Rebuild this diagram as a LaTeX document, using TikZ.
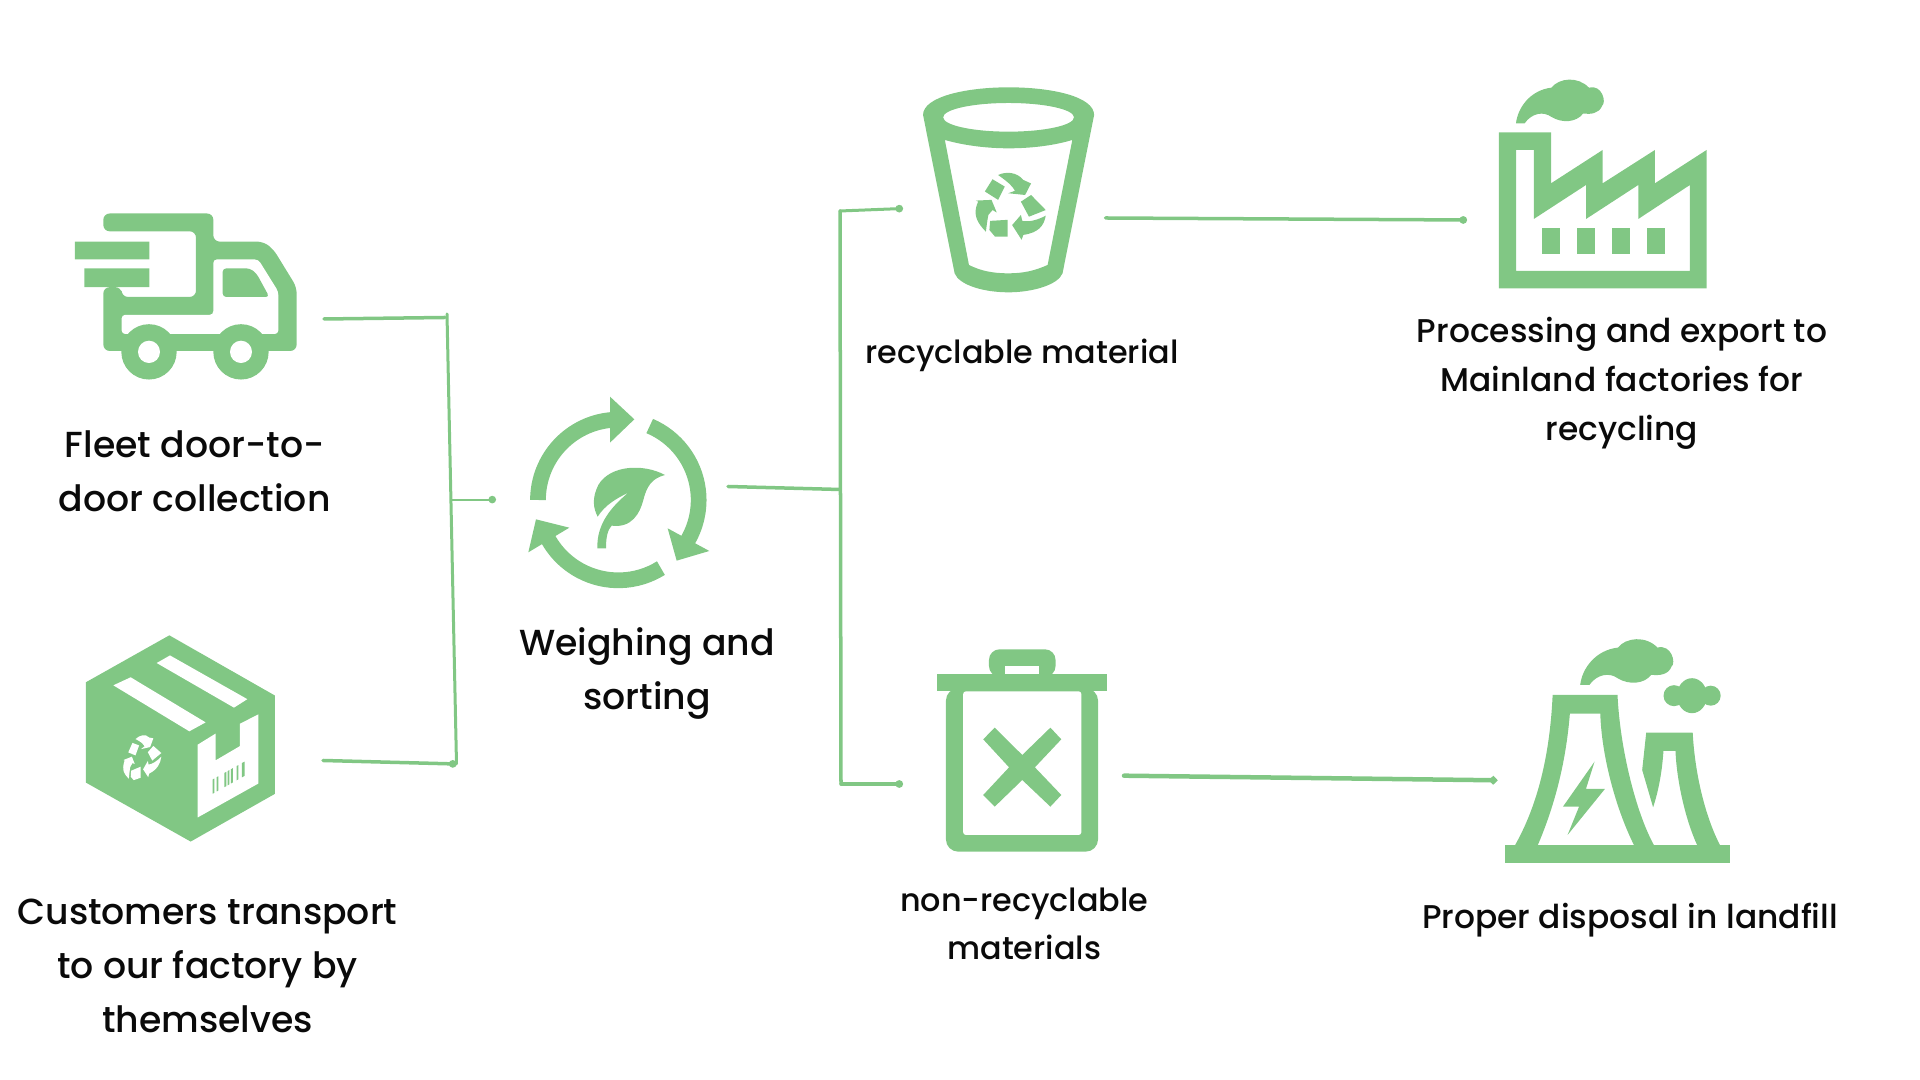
\documentclass[tikz,border=0pt]{standalone}
\usepackage{fontspec}
\setmainfont{Poppins Medium}
\usetikzlibrary{arrows.meta}
\definecolor{leaf}{RGB}{129,199,132}
\definecolor{inktext}{RGB}{10,10,10}
\tikzset{
  iconfill/.style={fill=leaf, even odd rule, draw=none},
  link/.style={draw=leaf, line width=.035cm, line cap=round},
  dotlink/.style={link, -{Circle[length=.075cm,width=.075cm]}},
  biglabel/.style={align=center, inner sep=0pt, text=inktext, font=\fontsize{10.3}{15.3}\selectfont},
  smalllabel/.style={align=center, inner sep=0pt, text=inktext, font=\fontsize{9.05}{13.8}\selectfont},
  widelabel/.style={smalllabel, font=\fontsize{9.35}{13.9}\selectfont},
  pics/recyclemark/.style={code={
    \fill[#1] (-.29,-.95) .. controls (-.1,-1.05) and (.24,-1.05) .. (.43,-.81) -- (.65,-.71) -- (.48,-.38) -- (0,-.43) -- (.19,-.50) .. controls (.12,-.62) and (.05,-.71) .. (-.29,-.95) -- cycle;
    \fill[#1] (-.45,-.83) -- (-.10,-.62) -- (-.29,-.24) -- (-.67,-.48) -- cycle;
    \fill[#1] (.65,-.38) -- (1.07,.05) -- (.59,.24) -- (.36,-.19) -- cycle;
    \fill[#1] (1.07,.21) .. controls (1.02,.5) and (.86,.7) .. (.43,.76) -- (.38,.90) -- (.11,.48) -- (.36,.19) -- (.40,.36) .. controls (.6,.4) and (.85,.33) .. (1.07,.21) -- cycle;
    \fill[#1] (-.52,.36) -- (-.02,.33) -- (-.02,.81) -- (-.38,.81) -- (-.54,.62) -- cycle;
    \fill[#1] (-.64,.67) .. controls (-.85,.45) and (-1.05,.2) .. (-.86,-.19) -- (-.93,-.22) -- (-.48,-.24) -- (-.33,.12) -- (-.45,.05) -- (-.57,.19) .. controls (-.6,.35) and (-.62,.5) .. (-.64,.67) -- cycle;
  }},
  pics/smokepuff/.style={code={
    \fill[iconfill] (0,0) .. controls (3,-45) and (25,-95) .. (62,-102) .. controls (75,-130) and (108,-135) .. (127,-102)
      .. controls (150,-112) and (158,-60) .. (150,-50) .. controls (145,-28) and (130,-25) .. (117,-28)
      .. controls (105,-2) and (80,0) .. (62,-18) .. controls (48,-35) and (28,-30) .. (15,0) -- cycle;
  }}
}
\begin{document}
\begin{tikzpicture}[x=.01cm, y=-.01cm]
    \useasboundingbox (0,0) rectangle (1920,1080);

    % Truck and parcel
    \begin{scope}[shift={(40,180)}, xscale=1/3, yscale=1/2.24]
      \fill[iconfill, rounded corners=1.8pt] (190,115) -- (190,75) -- (520,75) -- (520,138) -- (670,138) -- (700,155) -- (770,240) -- (770,383) -- (190,383) -- (190,240) -- (245,240) -- (245,262) -- (468,262) -- (468,115) -- cycle;
      \fill[white, rounded corners=1pt] (245,302) -- (520,302) -- (520,178) -- (655,178) -- (715,250) -- (715,345) -- (245,345) -- cycle;
      \fill[iconfill, rounded corners=1pt] (548,198) -- (630,198) -- (650,210) -- (688,262) -- (548,262) -- cycle;
      \fill[iconfill] (105,138) rectangle (328,178) (133,198) rectangle (328,240);
      \foreach \wx in {327,603} {
        \fill[leaf] (\wx,385) ellipse [x radius=83, y radius=62];
        \fill[white] (\wx,385) ellipse [x radius=33, y radius=25];
      }
      % Parcel
      \fill[iconfill] (388,1020) -- (705,1155) -- (705,1375) -- (452,1482) -- (138,1350) -- (138,1125) -- cycle;
      \fill[white] (350,1082) -- (390,1065) -- (622,1163) -- (582,1182) -- cycle;
      \fill[white] (220,1132) -- (272,1114) -- (497,1215) -- (448,1235) -- cycle;
      \fill[white] (473,1265) -- (527,1240) -- (527,1300) -- (600,1268) -- (600,1218) -- (655,1197) -- (655,1352) -- (473,1428) -- cycle;
      \foreach \bx/\bw in {518/5, 530/5, 553/6, 563/5, 573/6, 590/5, 606/8} {
        \fill[leaf] (\bx,{1342-(\bx-520)*.418}) -- ++(0,32) -- ++(\bw,{-\bw*.418}) -- ++(0,-32) -- cycle;
      }
    \end{scope}
    \pic[yslant=.35, xscale=19, yscale=23] at (141,759) {recyclemark=white};

    % Cycle with leaf
    \begin{scope}[shift={(500,370)}, scale=1/3]
      \draw[leaf, line width=.157cm] (355,390) ++(180:241) arc (180:266:241);
      \draw[leaf, line width=.157cm] (355,390) ++(293:241) arc (293:392:241);
      \draw[leaf, line width=.157cm] (355,390) ++(58:241) arc (58:153:241);
      \fill[iconfill] (330,80) -- (403,148) -- (330,218) -- cycle;
      \fill[iconfill] (503,475) -- (628,543) -- (530,572) -- cycle;
      \fill[iconfill] (108,448) -- (208,473) -- (85,547) -- cycle;
      \fill[iconfill] (495,315) .. controls (430,280) and (330,285) .. (295,345) .. controls (275,385) and (280,415) .. (293,440)
        .. controls (315,405) and (350,385) .. (385,368) .. controls (335,410) and (290,460) .. (292,535) -- (318,535)
        .. controls (318,505) and (322,480) .. (335,467) .. controls (395,475) and (420,430) .. (430,390)
        .. controls (440,350) and (455,325) .. (495,315) -- cycle;
    \end{scope}

    % Cup and factory
    \begin{scope}[shift={(880,60)}, xscale=.574, yscale=1/3]
      \fill[iconfill] (75,165) .. controls (75,110) and (150,82) .. (224,82) .. controls (300,82) and (373,110) .. (373,165)
        -- (318,640) .. controls (310,675) and (265,697) .. (224,697) .. controls (180,697) and (138,675) .. (130,640) -- cycle
        (113,240) .. controls (150,258) and (190,265) .. (224,265) .. controls (260,265) and (300,258) .. (335,240)
        -- (292,615) .. controls (270,632) and (250,640) .. (224,640) .. controls (195,640) and (175,632) .. (155,615) -- cycle
        (224,172) ellipse [x radius=114, y radius=43];
      \fill[iconfill] (1078,217) -- (1169,217) -- (1169,370) -- (1259,270) -- (1259,370) -- (1350,270) -- (1350,370) -- (1440,270) -- (1440,685) -- (1078,685) -- cycle
        (1108,270) -- (1139,270) -- (1139,477) -- (1230,375) -- (1230,477) -- (1321,375) -- (1321,477) -- (1411,375) -- (1411,633) -- (1108,633) -- cycle;
      \foreach \wx in {1154,1214,1275,1336} {
        \fill[leaf] (\wx,504) rectangle ++(31,77);
      }
      \pic[transform shape, yscale=1.05] at (1108,190) {smokepuff};
    \end{scope}
    \pic[scale=35] at (1008.3,208.3) {recyclemark=leaf};

    % Bin and power plant
    \begin{scope}[shift={(900,620)}, xscale=.574, yscale=1/3]
      \fill[iconfill] (65,163) rectangle (360,214);
      \fill[iconfill, rounded corners=3pt] (155,170) -- (155,88) -- (271,88) -- (271,170) -- cycle;
      \fill[white] (183,137) rectangle (242,163);
      \fill[iconfill, rounded corners=3.5pt] (80,205) -- (80,695) -- (345,695) -- (345,205) -- cycle;
      \fill[white, rounded corners=.8pt] (110,214) -- (110,645) -- (316,645) -- (316,214) -- cycle;
      \fill[iconfill] (165,323) -- (213,405) -- (262,323) -- (281,358) -- (235,442) -- (281,525) -- (262,560) -- (213,480) -- (165,560) -- (145,525) -- (190,442) -- (145,358) -- cycle;
      % Towers
      \fill[iconfill] (1054,675) rectangle (1446,730);
      \fill[iconfill] (1137,225) -- (1250,225) .. controls (1255,400) and (1285,590) .. (1315,680) -- (1280,680) .. controls (1245,560) and (1222,400) .. (1220,281) -- (1167,281)
        .. controls (1160,430) and (1140,560) .. (1110,680) -- (1070,680) .. controls (1110,560) and (1132,410) .. (1137,225) -- cycle;
      \fill[iconfill] (1300,338) -- (1381,338) .. controls (1385,470) and (1405,600) .. (1430,680) -- (1390,680) .. controls (1368,600) and (1353,480) .. (1351,393) -- (1330,393)
        .. controls (1328,450) and (1322,510) .. (1312,562) -- (1293,450) -- cycle;
      \fill[iconfill] (1210,425) -- (1155,560) -- (1183,560) -- (1163,645) -- (1228,507) -- (1195,507) -- cycle;
      \pic[transform shape, xscale=1.06, yscale=1.1] at (1185,195) {smokepuff};
    \end{scope}
    % Small cloud
    \foreach \cx/\rx/\ry in {1674/10.5/10.5, 1710.7/10/10, 1692/15/17.5} {
      \fill[leaf] (\cx,695.7) ellipse [x radius=\rx, y radius=\ry];
    }

    % Connector ends
    \coordinate (truckout) at (324,319);
    \coordinate (truckjoin) at (445,317.5);
    \coordinate (parcelout) at (323,760.5);
    \coordinate (leftbartop) at (447,314);
    \coordinate (leftbarend) at (456.5,764);
    \coordinate (leftmid) at (451.5,499.6);
    \coordinate (cyclein) at (496,499.6);
    \coordinate (cycleout) at (728,486.5);
    \coordinate (rightmid) at (840,489.5);
    \coordinate (rightbartop) at (840,211);
    \coordinate (rightbarend) at (841,784);
    \coordinate (cupin) at (903,208.5);
    \coordinate (binin) at (903,784);
    \coordinate (cupout) at (1105.5,218);
    \coordinate (factoryin) at (1467,220);
    \coordinate (binout) at (1124,775.7);
    \coordinate (plantin) at (1497,780.3);

    % Connectors
    \draw[link] (truckout) -- (truckjoin);
    \draw[link, line width=.03cm] (leftbartop) -- (leftbarend);
    \draw[dotlink] (parcelout) -- (leftbarend);
    \draw[dotlink, line width=.02cm] (leftmid) -- (cyclein);
    \draw[link] (cycleout) -- (rightmid);
    \draw[link] (rightbartop) -- (rightbarend);
    \draw[dotlink, line width=.03cm] (rightbartop) -- (cupin);
    \draw[dotlink] (rightbarend) -- (binin);
    \draw[dotlink] (cupout) -- (factoryin);
    \draw[dotlink, line width=.045cm] (binout) -- (plantin);

    % Labels
    \node[biglabel] (fleet) at (194.7,471.5) {Fleet door-to-\\door collection};
    \node[biglabel] (customers) at (207.5,966) {Customers transport\\to our factory by\\themselves};
    \node[biglabel] (weighing) at (647,673.5) {Weighing and\\sorting};
    \node[smalllabel] (recyclable) at (1022,355) {recyclable material};
    \node[widelabel] (processing) at (1622,383.5) {Processing and export to\\Mainland factories for\\recycling};
    \node[smalllabel] (nonrecyclable) at (1024.3,924) {non-recyclable\\materials};
    \node[widelabel] (proper) at (1630,920.5) {Proper disposal in landfill};

\end{tikzpicture}
\end{document}
